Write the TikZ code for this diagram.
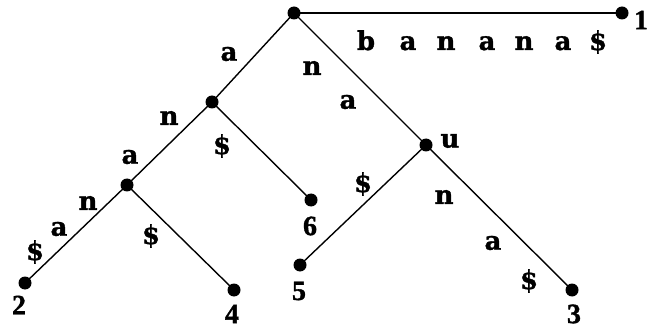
\documentclass[tikz,border=0pt]{standalone}
\usepackage{fontspec}
\setmainfont{DejaVu Serif}[BoldFeatures={FakeBold=1.2}]
\newfontfamily\digitfont{Liberation Serif}[BoldFeatures={FakeBold=1.2}]
\begin{document}
\begin{tikzpicture}[x=1pt,y=-1pt,
  vtx/.style={circle,fill=black,inner sep=0pt,minimum size=13pt},
  edge/.style={line width=1.4pt},
  lbl/.style={font=\fontsize{26}{26}\selectfont\bfseries,inner sep=0pt},
  leaf/.style={font=\digitfont\fontsize{28}{28}\selectfont\bfseries,inner sep=0pt}]
\useasboundingbox (0,0) rectangle (650,331);
% tree vertices
\node[vtx] (r) at (294,13) {};
\node[vtx] (l1) at (622,13) {};
\node[vtx] (A) at (212,102) {};
\node[vtx] (B) at (127,185) {};
\node[vtx] (l2) at (25,283) {};
\node[vtx] (l4) at (234,290) {};
\node[vtx] (l6) at (311,200) {};
\node[vtx] (U) at (426,145) {};
\node[vtx] (l5) at (300,265) {};
\node[vtx] (l3) at (572,290) {};
% edges
\draw[edge] (r.center) -- (l1.center);
\draw[edge] (r.center) -- (A.center);
\draw[edge] (A.center) -- (B.center);
\draw[edge] (B.center) -- (l2.center);
\draw[edge] (B.center) -- (l4.center);
\draw[edge] (A.center) -- (l6.center);
\draw[edge] (r.center) -- (U.center);
\draw[edge] (U.center) -- (l5.center);
\draw[edge] (U.center) -- (l3.center);
% leaf numbers
\node[leaf] (n1) at (641,20) {1};
\node[leaf] (n2) at (19,305) {2};
\node[leaf] (n4) at (232,314) {4};
\node[leaf] (n6) at (310,226) {6};
\node[leaf] (n5) at (299,291) {5};
\node[leaf] (n3) at (574,314) {3};
% edge string of the long leaf
\foreach \c/\x [count=\i] in {b/366,a/408,n/446,a/487,n/524,a/563,\$/598}
  \node[lbl,anchor=base] (t\i) at (\x,50) {\c};
% edge strings
\node[lbl] (sa1) at (229,54) {a};
\node[lbl] (sn1) at (169,118) {n};
\node[lbl] (sa2) at (130,157) {a};
\node[lbl] (sn2) at (88,203) {n};
\node[lbl] (sa3) at (59,229) {a};
\node[lbl] (sd1) at (35,252) {\$};
\node[lbl] (sd2) at (151,236) {\$};
\node[lbl] (sd3) at (222,146) {\$};
\node[lbl] (sn3) at (312,68) {n};
\node[lbl] (sa4) at (348,102) {a};
\node[lbl] (su) at (450,141) {u};
\node[lbl] (sd4) at (363,184) {\$};
\node[lbl] (sn4) at (444,197) {n};
\node[lbl] (sa5) at (493,243) {a};
\node[lbl] (sd5) at (529,281) {\$};
\end{tikzpicture}
\end{document}
